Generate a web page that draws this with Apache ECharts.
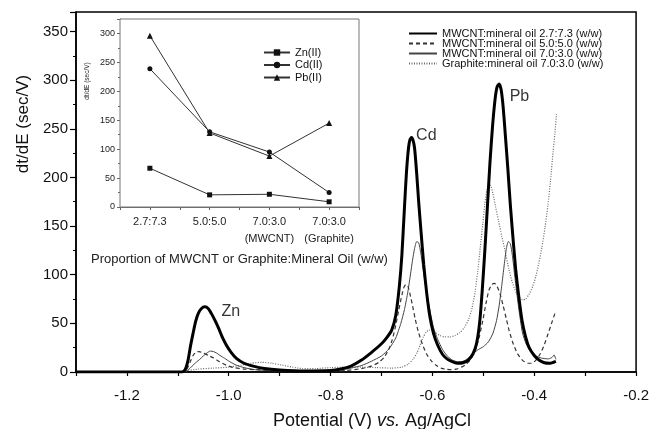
<!DOCTYPE html>
<html><head><meta charset="utf-8">
<script src="https://cdn.jsdelivr.net/npm/echarts@6/dist/echarts.min.js"></script>
<style>html,body{margin:0;padding:0;background:#fff}#c{width:652px;height:429px}</style>
</head><body><div id="c"></div>
<script>
const FONT = "'Liberation Sans', Arial, sans-serif";
const seriesNames = [
  'MWCNT:mineral oil 2.7:7.3 (w/w)',
  'MWCNT:mineral oil 5.0:5.0 (w/w)',
  'MWCNT:mineral oil 7.0:3.0 (w/w)',
  'Graphite:mineral oil 7.0:3.0 (w/w)'
];
// [potential (V), dt/dE (sec/V)]
const mwcnt27 = [[-1.30,0],[-1.092,0],[-1.086,2],[-1.08,12],[-1.075,27],[-1.07,40],[-1.065,52],[-1.06,60],[-1.054,65],[-1.047,67],[-1.04,65],[-1.034,60],[-1.027,53],[-1.02,45],[-1.012,35],[-1.004,27],[-0.995,20],[-0.985,14],[-0.97,9],[-0.952,6],[-0.93,3.5],[-0.90,2],[-0.85,1],[-0.80,1.5],[-0.78,3],[-0.76,6],[-0.74,12],[-0.72,20],[-0.70,29],[-0.69,35],[-0.68,43],[-0.672,58],[-0.665,88],[-0.66,120],[-0.655,168],[-0.651,205],[-0.647,230],[-0.644,239],[-0.641,241],[-0.638,238],[-0.635,230],[-0.631,205],[-0.627,175],[-0.622,142],[-0.617,110],[-0.611,80],[-0.605,57],[-0.598,40],[-0.59,28],[-0.58,18],[-0.57,13],[-0.56,10.5],[-0.55,9],[-0.54,9.5],[-0.53,12],[-0.52,19],[-0.513,30],[-0.507,52],[-0.502,85],[-0.497,125],[-0.492,170],[-0.487,215],[-0.482,252],[-0.477,280],[-0.473,293],[-0.469,296],[-0.465,290],[-0.461,272],[-0.457,245],[-0.452,210],[-0.447,172],[-0.441,133],[-0.436,103],[-0.43,76],[-0.424,53],[-0.417,36],[-0.41,25],[-0.40,17],[-0.39,12],[-0.38,9.5],[-0.37,9],[-0.3575,11]];
const mwcnt50 = [[-1.30,0],[-1.088,0],[-1.082,3],[-1.076,10],[-1.07,17],[-1.064,20.5],[-1.058,21],[-1.05,19.5],[-1.04,17],[-1.03,14.5],[-1.018,10.6],[-1.005,7],[-0.99,4.5],[-0.97,3],[-0.95,2.5],[-0.90,1.2],[-0.85,0.6],[-0.80,0.8],[-0.77,1.5],[-0.74,3.5],[-0.72,6],[-0.705,10],[-0.695,15],[-0.686,23],[-0.679,33],[-0.672,48],[-0.666,64],[-0.66,79],[-0.656,87],[-0.652,90],[-0.648,88],[-0.644,80],[-0.639,68],[-0.634,55],[-0.628,42],[-0.62,29],[-0.612,19],[-0.603,12],[-0.593,7],[-0.583,4],[-0.573,2.8],[-0.563,2.5],[-0.553,3],[-0.543,5],[-0.534,8],[-0.525,13],[-0.516,22],[-0.508,36],[-0.501,53],[-0.495,70],[-0.489,84],[-0.483,90],[-0.478,91],[-0.473,88],[-0.467,80],[-0.461,68],[-0.455,55],[-0.449,42],[-0.442,30],[-0.433,19],[-0.423,12],[-0.413,9],[-0.405,9],[-0.397,12],[-0.389,18],[-0.381,27],[-0.373,39],[-0.366,50],[-0.3595,60]];
const mwcnt70 = [[-1.30,0],[-1.088,0],[-1.08,2],[-1.072,6],[-1.064,10],[-1.057,13],[-1.05,16.5],[-1.043,19.5],[-1.036,21.5],[-1.03,21],[-1.024,19.5],[-1.017,17],[-1.008,14],[-0.998,10.6],[-0.985,7],[-0.97,4.5],[-0.95,2.5],[-0.92,1.5],[-0.85,1],[-0.80,1.5],[-0.77,3],[-0.74,6.5],[-0.72,11],[-0.70,16.5],[-0.685,24],[-0.672,35],[-0.662,50],[-0.655,64],[-0.649,80],[-0.644,97],[-0.639,115],[-0.635,127],[-0.631,134],[-0.627,133],[-0.623,123],[-0.619,108],[-0.615,94],[-0.61,78],[-0.604,61],[-0.598,46],[-0.59,34],[-0.58,23],[-0.57,16],[-0.56,12],[-0.55,10.5],[-0.54,11],[-0.53,14],[-0.52,19],[-0.51,23],[-0.50,26],[-0.49,31],[-0.481,40],[-0.474,53],[-0.469,68],[-0.464,88],[-0.459,110],[-0.455,126],[-0.451,134],[-0.447,132],[-0.443,120],[-0.439,102],[-0.434,80],[-0.429,60],[-0.423,40],[-0.416,29],[-0.407,21],[-0.395,16],[-0.383,14],[-0.372,13.5],[-0.365,15],[-0.361,17.5],[-0.3575,13]];
const graphite70 = [[-1.30,0],[-1.092,0],[-1.08,1.5],[-1.06,3],[-1.03,4],[-1.00,5],[-0.975,7],[-0.955,9],[-0.935,10],[-0.915,9],[-0.895,7],[-0.875,5],[-0.855,3.5],[-0.83,3.5],[-0.80,4.5],[-0.77,5],[-0.74,5],[-0.71,4.5],[-0.68,4],[-0.66,5],[-0.648,8],[-0.638,13],[-0.63,20],[-0.624,28],[-0.618,36],[-0.612,41],[-0.606,43],[-0.60,42.5],[-0.593,40],[-0.585,37.5],[-0.576,36],[-0.566,36],[-0.556,37.5],[-0.546,40.5],[-0.537,46],[-0.529,54],[-0.522,66],[-0.516,83],[-0.511,103],[-0.506,128],[-0.501,153],[-0.497,173],[-0.493,187],[-0.489,193],[-0.485,191],[-0.481,183],[-0.476,170],[-0.47,155],[-0.464,140],[-0.457,124],[-0.45,106],[-0.443,92],[-0.436,82],[-0.429,76],[-0.423,74],[-0.417,75],[-0.41,80],[-0.403,88],[-0.397,98],[-0.391,112],[-0.385,128],[-0.379,148],[-0.373,172],[-0.368,197],[-0.363,226],[-0.3595,245],[-0.3563,265]];
const peakLabels = [[-0.996,62,'Zn'],[-0.612,243,'Cd'],[-0.429,283,'Pb']];

const insetCategories = ['2.7:7.3','5.0:5.0','7.0:3.0\n(MWCNT)','7.0:3.0\n(Graphite)'];
const insetNames = ['Zn(II)','Cd(II)','Pb(II)'];
const insetZn = [67,21,22,9];
const insetCd = [239,130,95,25];
const insetPb = [296,128,88,145];

const chart = echarts.init(document.getElementById('c'), null, {renderer:'canvas'});
const mainStyles = [
  {color:'#000', width:3, type:'solid'},
  {color:'#333', width:1.2, type:[4,3]},
  {color:'#444', width:1, type:'solid'},
  {color:'#6a6a6a', width:1.2, type:[1,1.5]}
];
const mainData = [mwcnt27, mwcnt50, mwcnt70, graphite70];
const series = mainData.map((d,i)=>({
  name: seriesNames[i], type:'line', xAxisIndex:0, yAxisIndex:0,
  data:d, showSymbol:false, symbol:'none', smooth:0.2,
  lineStyle: mainStyles[i], itemStyle:{color:mainStyles[i].color}, silent:true, z: 3+(3-i)
}));
series.push({
  type:'scatter', xAxisIndex:0, yAxisIndex:0, data:peakLabels, symbolSize:0, silent:true,
  label:{show:true, position:'inside', formatter:p=>p.data[2], fontSize:16, fontFamily:FONT, color:'#000'}
});
const insetSym = ['rect','circle','triangle'];
[insetZn, insetCd, insetPb].forEach((arr,i)=>{
  series.push({
    name: insetNames[i], type:'line', xAxisIndex:1, yAxisIndex:1,
    data: arr.map((v,k)=>[k+1,v]), symbol: insetSym[i], symbolSize: i===2?6:5,
    lineStyle:{color:'#333', width:1}, itemStyle:{color:'#111'}, silent:true, z:10
  });
});

const option = {
  animation:false,
  backgroundColor:'#fff',
  textStyle:{fontFamily:FONT},
  grid:[
    {left:76, top:12, width:561, height:360, show:true, borderColor:'#000', borderWidth:1.5, backgroundColor:'transparent'},
    {left:120, top:19, width:239, height:188, show:true, borderColor:'#777', borderWidth:1, backgroundColor:'#fff', z:5}
  ],
  legend:[
    {data:seriesNames, orient:'vertical', left:408, top:28, padding:0, itemWidth:28, itemHeight:10, itemGap:-1,
     itemStyle:{color:'transparent', borderColor:'transparent', borderWidth:0, opacity:0},
     textStyle:{fontSize:11, lineHeight:10, color:'#111', fontFamily:FONT}},
    {data:insetNames, orient:'vertical', left:263, top:47, padding:0, itemWidth:26, itemHeight:8, itemGap:1.5, z:20,
     textStyle:{fontSize:11, lineHeight:8, color:'#111', fontFamily:FONT}}
  ],
  xAxis:[
    {type:'value', gridIndex:0, min:-1.3, max:-0.2, interval:0.1,
     axisLine:{lineStyle:{color:'#000', width:1.5}},
     axisTick:{show:true, inside:false, length:4, lineStyle:{color:'#000', width:1.2}},
     axisLabel:{fontSize:15, color:'#111', margin:16, fontFamily:FONT,
       formatter:v=>{const t=Math.round(v*10); return (t%2===0)? (t/10).toFixed(1) : '';}},
     splitLine:{show:false}},
    {type:'value', gridIndex:1, min:0.5, max:4.5, interval:0.5,
     axisLine:{lineStyle:{color:'#666', width:1}},
     axisTick:{show:true, length:3, lineStyle:{color:'#666'}},
     axisLabel:{fontSize:11, color:'#222', margin:6, lineHeight:17, fontFamily:FONT,
       formatter:v=>{const r=Math.round(v); return Math.abs(v-r)<1e-6 ? insetCategories[r-1] : '';}},
     name:'Proportion of MWCNT or Graphite:Mineral Oil (w/w)', nameLocation:'middle', nameGap:46,
     nameTextStyle:{fontSize:13, color:'#222', fontFamily:FONT},
     splitLine:{show:false}}
  ],
  yAxis:[
    {type:'value', gridIndex:0, min:0, max:370, interval:50,
     axisLine:{show:true, lineStyle:{color:'#000', width:1.5}},
     axisTick:{show:true, length:6, lineStyle:{color:'#000', width:1.2}},
     minorTick:{show:true, splitNumber:2, length:3, lineStyle:{color:'#000', width:1}},
     axisLabel:{fontSize:15, color:'#111', margin:8, fontFamily:FONT, showMaxLabel:false},
     splitLine:{show:false}},
    {type:'value', gridIndex:1, min:0, max:325, interval:50,
     axisLine:{show:true, lineStyle:{color:'#666', width:1}},
     axisTick:{show:true, length:3, lineStyle:{color:'#666'}},
     minorTick:{show:true, splitNumber:2, length:2, lineStyle:{color:'#666'}},
     axisLabel:{fontSize:9, color:'#222', margin:5, fontFamily:FONT, showMaxLabel:false},
     splitLine:{show:false}}
  ],
  graphic:[
    {type:'text', x:23, y:124, rotation:Math.PI/2, z:50,
     style:{text:'dt/dE (sec/V)', fontSize:17, fontFamily:FONT, fill:'#111', align:'center', verticalAlign:'middle'}},
    {type:'text', x:87, y:81, rotation:Math.PI/2, z:50,
     style:{text:'dt/dE (sec/V)', fontSize:6.5, fontFamily:FONT, fill:'#222', align:'center', verticalAlign:'middle'}},
    {type:'text', x:372, y:421, z:50,
     style:{text:'{n|Potential (V) }{i|vs.}{n| Ag/AgCl}', align:'center', verticalAlign:'middle',
       rich:{n:{fontSize:18, fontFamily:FONT, fill:'#111'}, i:{fontSize:18, fontFamily:FONT, fontStyle:'italic', fill:'#111'}}}}
  ],
  series: series
};
chart.setOption(option);
</script>
</body></html>
